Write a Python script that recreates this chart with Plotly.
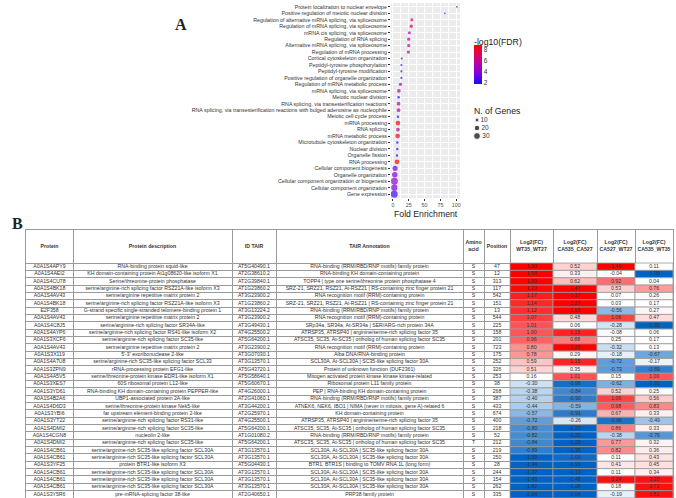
import numpy as np
import plotly.graph_objects as go

W, H = 676, 498

# ---------------- Panel A : GO enrichment dot plot ----------------
go_terms = [
    "Protein localization to nuclear envelope",
    "Positive regulation of meiotic nuclear division",
    "Regulation of alternative mRNA splicing, via spliceosome",
    "Regulation of mRNA splicing, via spliceosome",
    "mRNA cis splicing, via spliceosome",
    "Regulation of RNA splicing",
    "Alternative mRNA splicing, via spliceosome",
    "Regulation of mRNA processing",
    "Cortical cytoskeleton organization",
    "Peptidyl-tyrosine phosphorylation",
    "Peptidyl-tyrosine modification",
    "Positive regulation of organelle organization",
    "Regulation of mRNA metabolic process",
    "mRNA splicing, via spliceosome",
    "Meiotic nuclear division",
    "RNA splicing, via transesterification reactions",
    "RNA splicing, via transesterification reactions with bulged adenosine as nucleophile",
    "Meiotic cell cycle process",
    "mRNA processing",
    "RNA splicing",
    "mRNA metabolic process",
    "Microtubule cytoskeleton organization",
    "Nuclear division",
    "Organelle fission",
    "RNA processing",
    "Cellular component biogenesis",
    "Organelle organization",
    "Cellular component organization or biogenesis",
    "Cellular component organization",
    "Gene expression",
]
fold_enrichment = [101, 82, 30, 29, 26, 25, 25, 24.5, 14, 13.5, 13.5, 13.5, 12, 9.5, 9,
                   9, 9, 8, 8, 8, 7.5, 7, 7, 6.5, 6.5, 3.5, 3, 2.5, 2.3, 2]
neg_log10_fdr = [2.0, 2.2, 6.8, 7.2, 5.2, 6.0, 5.6, 6.4, 2.3, 2.2, 2.2, 2.1, 4.6, 5.6, 1.85,
                 5.4, 5.4, 2.0, 8.6, 5.6, 8.4, 2.0, 2.0, 2.0, 8.9, 3.4, 3.6, 4.4, 3.6, 2.6]
n_genes = [2, 2, 6, 7, 6, 7, 7, 7, 3, 3, 3, 3, 7, 9, 4, 9, 9, 4, 14, 9, 14, 4, 4, 4, 15,
           17, 20, 30, 25, 32]
size_legend_values = [10, 20, 30]
fe_ticks = [0, 25, 50, 75, 100]
fdr_ticks = [2, 4, 6, 8]

# ---------------- Panel B : phosphosite table ----------------
table_header = ["Protein", "Protein description", "ID TAIR", "TAIR Annotation",
                "Amino<br>acid", "Position", "Log2(FC)<br>WT35_WT27",
                "Log2(FC)<br>CA535_CA527", "Log2(FC)<br>CA527_WT27", "Log2(FC)<br>CA535_WT35"]
proteins = ["A0A1S4APY9", "A0A1S4AEI2", "A0A1S4CU78", "A0A1S4BK18", "A0A1S4AV43",
            "A0A1S4BK18", "E2F358", "A0A1S4AV43", "A0A1S4C8J5", "A0A1S4AYP6",
            "A0A1S3XCF6", "A0A1S4AV43", "A0A1S3X119", "A0A1S4A7U8", "A0A1S3ZPN9",
            "A0A1S4A5V5", "A0A1S3XES7", "A0A1S3YD61", "A0A1S4B2A6", "A0A1S4D6D3",
            "A0A1S3YBI6", "A0A1S3YT22", "A0A1S4DMI2", "A0A1S4CGN8", "A0A1S4DMI2",
            "A0A1S4CB61", "A0A1S4CB61", "A0A1S3YF25", "A0A1S4CB61", "A0A1S4CB61",
            "A0A1S4CB61", "A0A1S3Y5R6"]
descriptions = [
    "RNA-binding protein squid-like",
    "KH domain-containing protein At1g08620-like isoform X1",
    "Serine/threonine-protein phosphatase",
    "serine/arginine-rich splicing factor RSZ21A-like isoform X3",
    "serine/arginine repetitive matrix protein 2",
    "serine/arginine-rich splicing factor RSZ21A-like isoform X3",
    "G-strand specific single-stranded telomere-binding protein 1",
    "serine/arginine repetitive matrix protein 2",
    "serine/arginine-rich splicing factor SR34A-like",
    "serine/arginine-rich splicing factor RS41-like isoform X2",
    "serine/arginine-rich splicing factor SC35-like",
    "serine/arginine repetitive matrix protein 2",
    "5'-3' exoribonuclease 2-like",
    "serine/arginine-rich SC35-like splicing factor SCL33",
    "rRNA-processing protein EFG1-like",
    "serine/threonine-protein kinase EDR1-like isoform X1",
    "60S ribosomal protein L12-like",
    "RNA-binding KH domain-containing protein PEPPER-like",
    "UBP1-associated protein 2A-like",
    "serine/threonine-protein kinase Nek5-like",
    "far upstream element-binding protein 2-like",
    "serine/arginine-rich splicing factor RS31-like",
    "serine/arginine-rich splicing factor SC35-like",
    "nucleolin 2-like",
    "serine/arginine-rich splicing factor SC35-like",
    "serine/arginine-rich SC35-like splicing factor SCL30A",
    "serine/arginine-rich SC35-like splicing factor SCL30A",
    "protein BTR1-like isoform X3",
    "serine/arginine-rich SC35-like splicing factor SCL30A",
    "serine/arginine-rich SC35-like splicing factor SCL30A",
    "serine/arginine-rich SC35-like splicing factor SCL30A",
    "pre-mRNA-splicing factor 38-like",
]
tair_ids = ["AT5G40490.1", "AT2G38610.2", "AT2G39840.1", "AT1G23860.2", "AT3G23900.2",
            "AT1G23860.2", "AT3G13224.2", "AT3G23900.2", "AT3G49430.1", "AT4G25500.2",
            "AT5G64200.1", "AT3G23900.2", "AT3G07030.1", "AT3G13570.1", "AT5G43720.1",
            "AT5G58640.1", "AT5G60670.1", "AT4G26000.1", "AT2G41060.1", "AT3G44200.1",
            "AT2G25970.1", "AT4G25500.1", "AT5G64200.1", "AT1G01080.2", "AT5G64200.1",
            "AT3G13570.1", "AT3G13570.1", "AT5G04430.1", "AT3G13570.1", "AT3G13570.1",
            "AT3G13570.1", "AT2G40650.1"]
tair_annotations = [
    "RNA-binding (RRM/RBD/RNP motifs) family protein",
    "RNA-binding KH domain-containing protein",
    "TOPP4 | type one serine/threonine protein phosphatase 4",
    "SRZ-21, SRZ21, RSZ21, At-RSZ21 | RS-containing zinc finger protein 21",
    "RNA recognition motif (RRM)-containing protein",
    "SRZ-21, SRZ21, RSZ21, At-RSZ21 | RS-containing zinc finger protein 21",
    "RNA-binding (RRM/RBD/RNP motifs) family protein",
    "RNA recognition motif (RRM)-containing protein",
    "SRp34a, SR34a, At-SR34a | SER/ARG-rich protein 34A",
    "ATRSP35, ATRSP40 | arginine/serine-rich splicing factor 35",
    "ATSC35, SC35, At-SC35 | ortholog of human splicing factor SC35",
    "RNA recognition motif (RRM)-containing protein",
    "Alba DNA/RNA-binding protein",
    "SCL30A, At-SCL30A | SC35-like splicing factor 30A",
    "Protein of unknown function (DUF2361)",
    "Mitogen activated protein kinase kinase kinase-related",
    "Ribosomal protein L11 family protein",
    "PEP | RNA-binding KH domain-containing protein",
    "RNA-binding (RRM/RBD/RNP motifs) family protein",
    "ATNEK6, NEK6, IBO1 | NIMA (never in mitosis, gene A)-related 6",
    "KH domain-containing protein",
    "ATRSP35, ATRSP40 | arginine/serine-rich splicing factor 35",
    "ATSC35, SC35, At-SC35 | ortholog of human splicing factor SC35",
    "RNA-binding (RRM/RBD/RNP motifs) family protein",
    "ATSC35, SC35, At-SC35 | ortholog of human splicing factor SC35",
    "SCL30A, At-SCL30A | SC35-like splicing factor 30A",
    "SCL30A, At-SCL30A | SC35-like splicing factor 30A",
    "BTR1, BTR1S | binding to TOMV RNA 1L (long form)",
    "SCL30A, At-SCL30A | SC35-like splicing factor 30A",
    "SCL30A, At-SCL30A | SC35-like splicing factor 30A",
    "SCL30A, At-SCL30A | SC35-like splicing factor 30A",
    "PRP38 family protein",
]
amino_acids = ["S"] * 24 + ["T"] + ["S"] * 7
positions = [47, 12, 313, 117, 542, 151, 13, 544, 225, 158, 201, 723, 175, 252, 326, 253,
             38, 268, 387, 433, 674, 400, 218, 52, 212, 219, 250, 28, 244, 154, 262, 335]
fc_wt35_wt27 = [1.90, 1.58, 1.50, 1.23, 1.17, 1.14, 1.12, 1.07, 1.01, 1.00, 0.96, 0.80,
                0.78, 0.59, 0.51, 0.16, -0.30, -0.38, -0.40, -0.44, -0.57, -0.72, -0.80,
                -0.82, -0.84, -0.89, -1.33, -1.34, -1.37, -1.43, -1.82, -2.04]
fc_ca535_ca527 = [0.52, 0.33, 0.62, 1.47, 1.37, 1.27, 1.95, 0.48, 0.06, 1.15, 0.88, 1.25,
                  0.29, 1.15, 0.35, 1.01, -0.98, -0.84, -0.90, -0.59, -0.91, -0.26, -1.33,
                  -1.20, -1.29, -1.35, -1.00, -1.31, -1.13, -1.48, -1.28, -1.04]
fc_ca527_wt27 = [1.49, -0.04, 0.92, 0.53, 0.07, 0.03, -0.56, 1.06, -0.28, -0.08, 0.25,
                 -0.32, -0.18, -0.72, -0.73, 0.15, -0.62, 0.52, 1.06, 0.98, 0.67, -0.96,
                 0.86, -0.38, 0.77, 0.82, 0.11, 0.41, 0.11, 0.24, 0.18, -0.19]
fc_ca535_wt35 = [0.11, -1.39, 0.04, 0.76, 0.26, 0.17, 0.27, 0.47, -1.33, 0.06, 0.17, 0.13,
                 -0.67, -0.17, -0.89, 1.00, -1.31, 0.25, 0.56, 0.83, 0.33, -0.49, 0.33,
                 -0.76, 0.32, 0.36, 0.43, 0.45, 0.34, 0.20, 0.72, 0.81]
# cells that are highlighted in full red in the original (row index, log2 column index)
highlighted_cells = [(29, 2), (29, 3), (30, 3), (31, 3)]

# ---------------- styling helpers ----------------
FONT = "Liberation Sans"
TXT = "#333333"
LINE = "#9A9A9A"


def px_x(x):
    return x / W


def px_y(y):
    return 1 - y / H


def cell_color(v):
    if v >= 0:
        t = min(max((v - 0.15) / 1.1, 0.0), 1.0) ** 1.6
        r, g, b = 255, 255 * (1 - t), 255 * (1 - t)
    else:
        t = min(max((-v - 0.05) / 1.0, 0.0), 1.0) ** 1.2
        r, g, b = 255 * (1 - t), 255 + (98 - 255) * t, 255 + (196 - 255) * t
    return f"rgb({int(r)},{int(g)},{int(b)})"


fdr_scale = [[0.0, "#1010FF"], [0.25, "#7A00E2"], [0.5, "#B300A6"],
             [0.75, "#DD0062"], [1.0, "#FF0000"]]


def dot_diameter(n):
    return 1.25 * np.sqrt(n)


fig = go.Figure()

# --- dot plot ---
fig.add_trace(go.Scatter(
    x=fold_enrichment, y=go_terms, mode="markers", xaxis="x", yaxis="y",
    hoverinfo="skip", showlegend=False,
    marker=dict(size=[dot_diameter(n) for n in n_genes], sizemode="diameter",
                color=neg_log10_fdr, colorscale=fdr_scale,
                cmin=min(neg_log10_fdr), cmax=max(neg_log10_fdr), line=dict(width=0),
                colorbar=dict(x=px_x(474), xanchor="left", xpad=0,
                              y=px_y(64.5), yanchor="middle", ypad=0,
                              len=39, lenmode="pixels", thickness=8,
                              outlinewidth=0, tickvals=fdr_ticks, ticks="",
                              tickfont=dict(size=6.5, color=TXT, family=FONT)))))

# --- size legend ---
fig.add_trace(go.Scatter(
    x=[0] * len(size_legend_values), y=list(range(len(size_legend_values))),
    mode="markers+text", xaxis="x2", yaxis="y2", hoverinfo="skip", showlegend=False,
    text=[str(v) for v in size_legend_values], textposition="middle right",
    textfont=dict(size=6.5, color=TXT, family=FONT),
    marker=dict(size=[dot_diameter(v) for v in size_legend_values], color="black")))

# --- table ---
col_widths = [47, 159, 44, 187, 21, 26, 43, 44, 38, 38]
edges = np.concatenate([[0], np.cumsum(col_widths)])
centers = (edges[:-1] + edges[1:]) / 2
n_rows = len(proteins)
rows = list(range(n_rows))
fc_columns = [fc_wt35_wt27, fc_ca535_ca527, fc_ca527_wt27, fc_ca535_wt35]

for j, vals in enumerate(fc_columns):
    colors = [cell_color(v) for v in vals]
    for (r, c) in highlighted_cells:
        if c == j:
            colors[r] = "rgb(255,16,16)"
    ci = 6 + j
    fig.add_trace(go.Bar(
        y=rows, x=[col_widths[ci]] * n_rows, base=edges[ci], orientation="h", width=1,
        xaxis="x3", yaxis="y3", hoverinfo="skip", showlegend=False,
        marker=dict(color=colors, line=dict(color=LINE, width=0.8))))

TABLE_FS = 5.2
text_columns = [proteins, descriptions, tair_ids, tair_annotations, amino_acids,
                [str(p) for p in positions]] + [[f"{v:.2f}" for v in col] for col in fc_columns]
for j, col in enumerate(text_columns):
    fig.add_trace(go.Scatter(
        x=[centers[j]] * n_rows, y=rows, mode="text", text=col,
        textposition="middle center", xaxis="x3", yaxis="y3", hoverinfo="skip",
        showlegend=False, textfont=dict(size=TABLE_FS, color=TXT, family=FONT)))

HEADER_UNITS = 4.5
fig.add_trace(go.Scatter(
    x=centers, y=[-0.5 - HEADER_UNITS / 2] * len(table_header), mode="text",
    text=[f"<b>{h}</b>" for h in table_header], textposition="middle center",
    xaxis="x3", yaxis="y3", hoverinfo="skip", showlegend=False,
    textfont=dict(size=TABLE_FS, color=TXT, family=FONT)))

# --- layout ---
dot_x0, dot_x1 = 391, 460
dot_y0, dot_y1 = 3, 198
table_top = 230

fig.update_layout(
    width=W, height=H, margin=dict(l=0, r=0, t=0, b=0),
    paper_bgcolor="white", plot_bgcolor="rgba(0,0,0,0)", barmode="overlay",
    font=dict(family=FONT, color=TXT),
    xaxis=dict(domain=[px_x(dot_x0), px_x(dot_x1)], range=[-2.95, 105.95],
               tickvals=fe_ticks, ticks="outside", ticklen=2, tickwidth=0.7,
               tickcolor="#333333", tickfont=dict(size=5.3, color="#4D4D4D"),
               showgrid=True, gridcolor="white", gridwidth=0.7, zeroline=False,
               showline=False, automargin=False, anchor="y",
               minor=dict(tickvals=[12.5, 37.5, 62.5, 87.5], showgrid=True,
                          gridcolor="white", gridwidth=0.35, ticks="")),
    yaxis=dict(domain=[px_y(dot_y1), px_y(dot_y0)], type="category",
               categoryorder="array", categoryarray=go_terms,
               range=[len(go_terms) - 0.4, -0.6], ticks="outside", ticklen=2,
               tickwidth=0.7, tickcolor="#333333",
               tickfont=dict(size=5.3, color="#333333"), showgrid=True,
               gridcolor="white", gridwidth=0.7, zeroline=False, automargin=False,
               anchor="x"),
    xaxis2=dict(domain=[px_x(470), px_x(510)], range=[-7, 33], visible=False,
                anchor="y2"),
    yaxis2=dict(domain=[px_y(140), px_y(116)], range=[2.5, -0.5], visible=False,
                anchor="x2"),
    xaxis3=dict(domain=[px_x(26), px_x(673)], range=[0, float(edges[-1])],
                tickvals=list(edges), showticklabels=False, ticks="", showgrid=True,
                gridcolor=LINE, gridwidth=0.8, zeroline=False, showline=True,
                mirror=True, linecolor=LINE, linewidth=1, automargin=False,
                anchor="y3"),
    yaxis3=dict(domain=[0, px_y(table_top)], range=[n_rows - 0.5, -0.5 - HEADER_UNITS],
                tickvals=[r - 0.5 for r in range(n_rows)], showticklabels=False,
                ticks="", showgrid=True, gridcolor=LINE, gridwidth=0.8,
                zeroline=False, showline=True, mirror=True, linecolor=LINE,
                linewidth=1, automargin=False, anchor="x3"),
    shapes=[dict(type="rect", xref="x domain", yref="y domain", x0=0, x1=1, y0=0,
                 y1=1, fillcolor="#EBEBEB", line=dict(width=0), layer="below")],
    annotations=[
        dict(text="<b>A</b>", x=px_x(173), y=px_y(14), xref="paper", yref="paper",
             showarrow=False, font=dict(family="Liberation Serif", size=16,
                                        color="#222222")),
        dict(text="<b>B</b>", x=px_x(10), y=px_y(223), xref="paper", yref="paper",
             showarrow=False, font=dict(family="Liberation Serif", size=16,
                                        color="#222222")),
        dict(text="Fold Enrichment", x=px_x((dot_x0 + dot_x1) / 2), y=px_y(214),
             xref="paper", yref="paper", showarrow=False,
             font=dict(size=8.7, color="#222222")),
        dict(text="-log10(FDR)", x=px_x(473), y=px_y(36), xref="paper", yref="paper",
             xanchor="left", showarrow=False, borderpad=0,
             font=dict(size=8.7, color="#222222")),
        dict(text="N. of Genes", x=px_x(473), y=px_y(105), xref="paper", yref="paper",
             xanchor="left", showarrow=False, borderpad=0,
             font=dict(size=8.7, color="#222222")),
    ],
)

fig.write_html(
    "out.html",
    config={"displayModeBar": False},
    post_script="document.body.style.margin='0';document.body.style.overflow='hidden';",
)
